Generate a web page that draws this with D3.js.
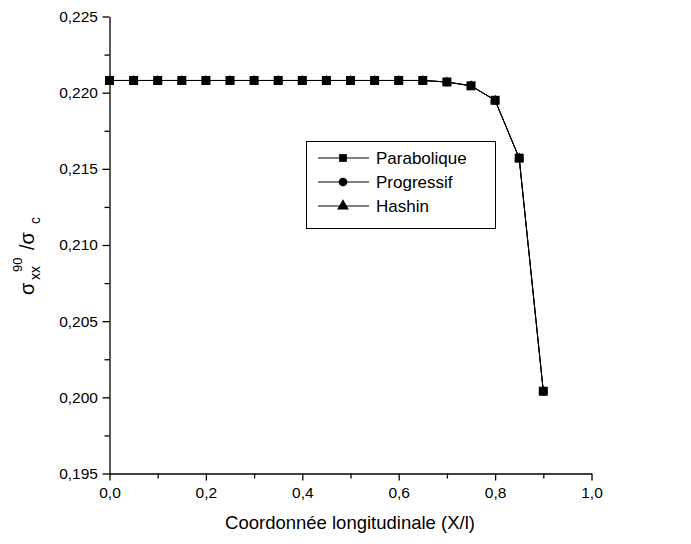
<!DOCTYPE html>
<html>
<head>
<meta charset="utf-8">
<script src="https://cdn.jsdelivr.net/npm/d3@7"></script>
<style>
body { margin: 0; background: #fff; }
text { font-family: "Liberation Sans", Arial, sans-serif; }
</style>
</head>
<body>
<div class="chart"></div>
<script>
const xs = [0, 0.05, 0.1, 0.15, 0.2, 0.25, 0.3, 0.35, 0.4, 0.45, 0.5, 0.55, 0.6, 0.65, 0.7, 0.75, 0.8, 0.85, 0.9];
const parabolique = [0.2208, 0.2208, 0.2208, 0.2208, 0.2208, 0.2208, 0.2208, 0.2208, 0.2208, 0.2208, 0.2208, 0.2208, 0.2208, 0.2208, 0.2207, 0.22045, 0.2195, 0.2157, 0.2004];
const progressif = [0.2208, 0.2208, 0.2208, 0.2208, 0.2208, 0.2208, 0.2208, 0.2208, 0.2208, 0.2208, 0.2208, 0.2208, 0.2208, 0.2208, 0.2207, 0.22045, 0.2195, 0.2157, 0.2004];
const hashin = [0.2208, 0.2208, 0.2208, 0.2208, 0.2208, 0.2208, 0.2208, 0.2208, 0.2208, 0.2208, 0.2208, 0.2208, 0.2208, 0.2208, 0.2207, 0.22045, 0.2195, 0.2157, 0.2004];
const seriesNames = ["Parabolique", "Progressif", "Hashin"];
const xTicks = [0, 0.2, 0.4, 0.6, 0.8, 1.0];
const yTicks = [0.195, 0.200, 0.205, 0.210, 0.215, 0.220, 0.225];

const width = 691, height = 544;
const margin = {top: 16.5, right: 100, bottom: 70.5, left: 109.5};

const svg = d3.select('.chart').append('svg')
    .attr("width", width).attr("height", height);

const x = d3.scaleLinear().domain([0, 1]).range([margin.left, 591.5]);
const y = d3.scaleLinear().domain([0.195, 0.225]).range([473.5, margin.top]);

const fmt = d => d3.format(".1f")(d).replace(".", ",");
const fmtY = d => d3.format(".3f")(d).replace(".", ",");

// minor ticks
svg.append("g")
    .attr("transform", `translate(0, ${y(0.195)})`)
    .call(d3.axisBottom(x).tickValues(d3.range(0.1, 1, 0.2)).tickSize(5).tickFormat(""))
    .call(g => g.select(".domain").remove());
svg.append("g")
    .attr("transform", `translate(${x(0)}, 0)`)
    .call(d3.axisLeft(y).tickValues(d3.range(0.1975, 0.225, 0.005)).tickSize(5).tickFormat(""))
    .call(g => g.select(".domain").remove());

const xAxis = svg.append("g")
    .attr("transform", `translate(0, ${y(0.195)})`)
    .call(d3.axisBottom(x).tickValues(xTicks).tickSize(7).tickSizeOuter(0).tickFormat(fmt));
xAxis.selectAll("text").attr("font-size", 15.5).attr("dy", "0.95em").attr("fill", "#000");

const yAxis = svg.append("g")
    .attr("transform", `translate(${x(0)}, 0)`)
    .call(d3.axisLeft(y).tickValues(yTicks).tickSize(7).tickSizeOuter(0).tickFormat(fmtY));
yAxis.selectAll("text").attr("font-size", 15.5).attr("dx", "-0.1em").attr("fill", "#000");

svg.selectAll(".domain, .tick line").attr("stroke", "#000").attr("stroke-width", 1.3);

// axis titles
svg.append("text")
    .attr("x", 350).attr("y", 529)
    .attr("text-anchor", "middle")
    .attr("font-size", 18.5)
    .text("Coordonnée longitudinale (X/l)");

// y title: sigma_xx^90 / sigma_c, pieces placed in the rotated frame
const yl = svg.append("g").attr("transform", "translate(34, 295) rotate(-90)");
yl.append("text").attr("x", 0).attr("y", 0).attr("font-size", 20).text("σ");
yl.append("text").attr("x", 15).attr("y", 6).attr("font-size", 14).text("xx");
yl.append("text").attr("x", 23).attr("y", -12).attr("font-size", 13).text("90");
yl.append("text").attr("x", 45).attr("y", 0).attr("font-size", 20).text("/σ");
yl.append("text").attr("x", 71).attr("y", 6).attr("font-size", 14).text("c");

const allSeries = [
    {name: "Hashin", values: hashin, symbol: d3.symbolTriangle, size: 40},
    {name: "Progressif", values: progressif, symbol: d3.symbolCircle, size: 55},
    {name: "Parabolique", values: parabolique, symbol: d3.symbolSquare, size: 81}
];

const line = d3.line().x(d => x(d[0])).y(d => y(d[1]));

allSeries.forEach(s => {
    const pts = xs.map((v, i) => [v, s.values[i]]);
    svg.append("path")
        .datum(pts)
        .attr("d", line)
        .attr("fill", "none")
        .attr("stroke", "#000")
        .attr("stroke-width", 1);
    svg.selectAll(null)
        .data(pts)
        .enter()
        .append("path")
        .attr("transform", d => `translate(${x(d[0])}, ${y(d[1])})`)
        .attr("d", d3.symbol().type(s.symbol).size(s.size))
        .attr("fill", "#000");
});

// legend
const legend = svg.append("g");
legend.append("rect")
    .attr("x", 306.5).attr("y", 141.5)
    .attr("width", 189).attr("height", 87)
    .attr("fill", "#fff").attr("stroke", "#000").attr("stroke-width", 1);

const legendSymbols = [d3.symbolSquare, d3.symbolCircle, d3.symbolTriangle];
seriesNames.forEach((name, i) => {
    const ly = 158 + i * 24;
    legend.append("line")
        .attr("x1", 318).attr("x2", 369)
        .attr("y1", ly).attr("y2", ly)
        .attr("stroke", "#000").attr("stroke-width", 1);
    legend.append("path")
        .attr("transform", `translate(343, ${ly})`)
        .attr("d", d3.symbol().type(legendSymbols[i]).size(60))
        .attr("fill", "#000");
    legend.append("text")
        .attr("x", 376).attr("y", ly)
        .attr("dy", "0.36em")
        .attr("font-size", 17)
        .text(name);
});
</script>
</body>
</html>
